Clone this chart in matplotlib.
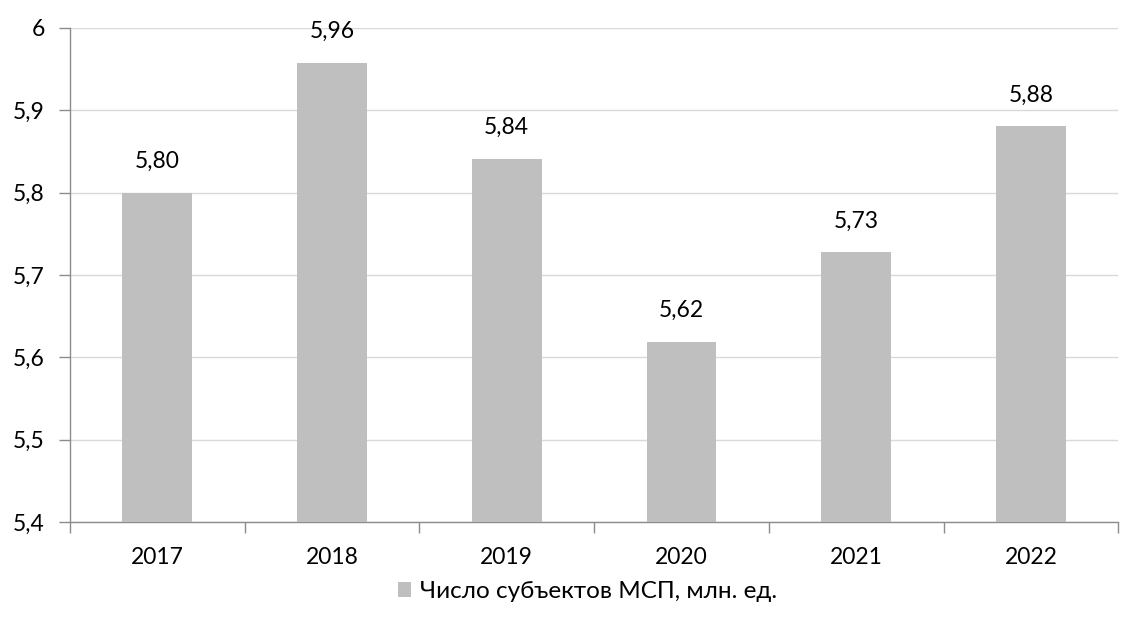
import numpy as np
import matplotlib.pyplot as plt
from matplotlib.patches import Patch

plt.rcParams['font.family'] = ['Lato', 'DejaVu Sans']

years = ['2017', '2018', '2019', '2020', '2021', '2022']
values = [5.80, 5.958, 5.841, 5.619, 5.728, 5.881]
labels = ['5,80', '5,96', '5,84', '5,62', '5,73', '5,88']
y_ticks = [5.4, 5.5, 5.6, 5.7, 5.8, 5.9, 6.0]
y_tick_labels = ['5,4', '5,5', '5,6', '5,7', '5,8', '5,9', '6']
legend_label = 'Число субъектов МСП, млн. ед.'

bar_color = '#bfbfbf'
axis_color = '#8c8c8c'
grid_color = '#d9d9d9'

fig = plt.figure(figsize=(11.23, 6.25), dpi=100)
ax = fig.add_axes([0.0623, 0.1648, 0.9335, 0.7904])

x = np.arange(len(years))
ax.bar(x, np.array(values) - 5.4, bottom=5.4, width=0.40, color=bar_color, zorder=3)

for xi, v, lab in zip(x, values, labels):
    ax.text(xi, v + 0.025, lab, ha='center', va='bottom', fontsize=16.5, color='#000000')

ax.set_ylim(5.4, 6.0)
ax.set_xlim(-0.5, len(years) - 0.5)
ax.set_yticks(y_ticks)
ax.set_yticklabels(y_tick_labels, fontsize=16.5)
ax.yaxis.grid(True, color=grid_color, linewidth=1, zorder=0)

# category labels centred, tick marks on category boundaries
ax.set_xticks(x)
ax.set_xticklabels(years, fontsize=16.5)
ax.tick_params(axis='x', length=0, pad=18)
ax.set_xticks(np.arange(len(years) + 1) - 0.5, minor=True)
ax.tick_params(axis='x', which='minor', length=8, color=axis_color, width=1)
ax.tick_params(axis='y', length=8, color=axis_color, width=1, pad=10)

for s in ['top', 'right']:
    ax.spines[s].set_visible(False)
for s in ['left', 'bottom']:
    ax.spines[s].set_color(axis_color)
    ax.spines[s].set_linewidth(1)

handle = Patch(facecolor=bar_color, edgecolor='none')
fig.legend([handle], [legend_label], loc='center', bbox_to_anchor=(0.523, 0.053),
           frameon=False, fontsize=17.5, handlelength=0.55, handleheight=0.55,
           handletextpad=0.35)

fig.savefig('out.png', dpi=100)
